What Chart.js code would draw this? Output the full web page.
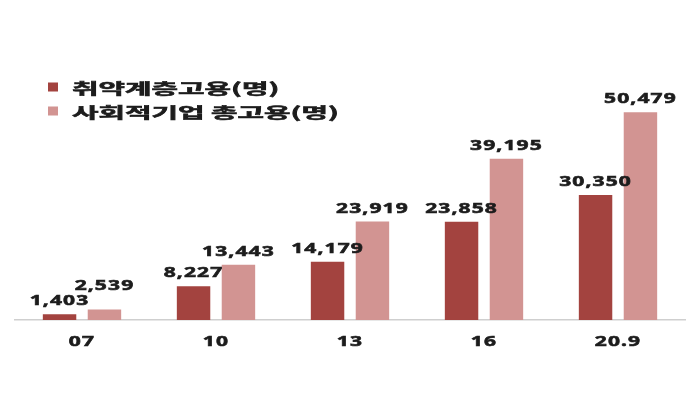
<!DOCTYPE html>
<html>
<head>
<meta charset="utf-8">
<script src="https://cdn.jsdelivr.net/npm/chart.js@4"></script>
<style>
  html, body { margin: 0; padding: 0; background: #ffffff; }
  #wrap { width: 700px; height: 420px; position: relative; }
</style>
</head>
<body>
<div id="wrap"><canvas id="c"></canvas></div>
<script>
const categories = ['07', '10', '13', '16', '20.9'];
const vulnerableEmployment = [1403, 8227, 14179, 23858, 30350];
const totalEmployment = [2539, 13443, 23919, 39195, 50479];
const seriesLabels = ['취약계층고용(명)', '사회적기업 총고용(명)'];
const seriesColors = ['#A3433F', '#D29492'];

const TEXT_COLOR = '#1c1c1c';
const NUM_FONT = 'bold 15px "Noto Sans", "DejaVu Sans", sans-serif';
const NUM_STRETCH = 1.4;
const KOR_FONT = 'bold 15px "Noto Sans CJK KR", sans-serif';
const HANGUL_PITCH = 26.5;

function drawStretched(ctx, text, x, y, align, sx) {
  ctx.save();
  ctx.translate(x, y);
  ctx.scale(sx, 1);
  ctx.textAlign = align;
  ctx.lineWidth = 0.6;
  ctx.strokeStyle = ctx.fillStyle;
  ctx.strokeText(text, 0, 0);
  ctx.fillText(text, 0, 0);
  ctx.restore();
}

const textPlugin = {
  id: 'textPlugin',
  afterDatasetsDraw(chart) {
    const ctx = chart.ctx;
    ctx.save();
    ctx.fillStyle = TEXT_COLOR;
    ctx.textBaseline = 'alphabetic';
    ctx.font = NUM_FONT;
    ctx.letterSpacing = '0.8px';
    // data labels with simple collision avoidance
    const textH = 11;
    const n = chart.data.labels.length;
    for (let j = 0; j < n; j++) {
      let prev = null;
      chart.data.datasets.forEach((ds, i) => {
        const bar = chart.getDatasetMeta(i).data[j];
        const txt = ds.data[j].toLocaleString('en-US');
        const w = ctx.measureText(txt).width * NUM_STRETCH;
        let y = bar.y - 9;
        const left = bar.x - w / 2, right = bar.x + w / 2;
        if (prev && left < prev.right + 2 && y > prev.y - textH - 4) {
          y = prev.y - textH - 4;
        }
        drawStretched(ctx, txt, bar.x, y, 'center', NUM_STRETCH);
        prev = { right, y };
      });
    }
    // x category labels
    const xs = chart.scales.x;
    chart.data.labels.forEach((lab, j) => {
      drawStretched(ctx, lab, xs.getPixelForValue(j), chart.chartArea.bottom + 26, 'center', NUM_STRETCH);
    });
    // legend
    ctx.letterSpacing = '0px';
    ctx.font = KOR_FONT;
    const sx = HANGUL_PITCH / ctx.measureText('가').width;
    ctx.textBaseline = 'middle';
    chart.data.datasets.forEach((ds, i) => {
      const cy = 87 + i * 24;
      ctx.fillStyle = ds.backgroundColor;
      ctx.fillRect(48, cy - 4.5, 10, 9);
      ctx.fillStyle = TEXT_COLOR;
      drawStretched(ctx, ds.label, 72, cy + 1, 'left', sx);
    });
    ctx.restore();
  }
};

new Chart(document.getElementById('c'), {
  type: 'bar',
  data: {
    labels: categories,
    datasets: [
      { label: seriesLabels[0], data: vulnerableEmployment, backgroundColor: seriesColors[0] },
      { label: seriesLabels[1], data: totalEmployment, backgroundColor: seriesColors[1] }
    ]
  },
  options: {
    responsive: true,
    maintainAspectRatio: false,
    animation: false,
    layout: { padding: { left: 15, right: 15, top: 73, bottom: 100 } },
    datasets: { bar: { categoryPercentage: 0.67, barPercentage: 0.745 } },
    plugins: { legend: { display: false }, tooltip: { enabled: false } },
    scales: {
      x: {
        grid: { display: false, drawTicks: false },
        border: { display: true, color: '#cfcfcf', width: 1.5 },
        ticks: { display: false }
      },
      y: {
        display: false,
        min: 0,
        max: 60000
      }
    }
  },
  plugins: [textPlugin]
});
</script>
</body>
</html>
